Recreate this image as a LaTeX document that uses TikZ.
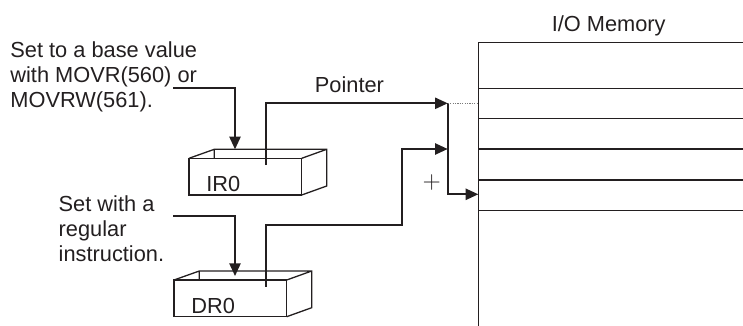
\documentclass[tikz,border=0pt]{standalone}
\usepackage{fontspec}
\setsansfont{Liberation Sans}
\usepackage{tikz}
\usetikzlibrary{arrows.meta,positioning}
\definecolor{ioline}{HTML}{231F20}
\definecolor{iodots}{HTML}{7A7A7A}
\newcommand{\drawtray}[1]{%
  \draw[draw=ioline,line width=0.65pt]
    (#1.north west) -- ++(25.3,-9) -- ++(112.4,0) -- ++(0,36.7) -- (#1.south east)
    (#1.north east) -- ++(25,-9)
    ([shift={(25.3,0)}]#1.north west) -- ++(0,-9);}

\begin{document}
\begin{tikzpicture}[
  x=0.5pt,y=-0.5pt,
  txt/.style={font=\sffamily\fontsize{10.9}{12.65}\selectfont,inner sep=0pt,align=left,text=ioline},
  reg/.style={draw=ioline,line width=0.65pt,minimum width=56.35pt,minimum height=18.35pt,inner sep=0pt,outer sep=0pt},
  mem/.style={draw=ioline,line width=0.6pt,minimum width=150pt,minimum height=152pt,inner sep=0pt,outer sep=0pt},
  row/.style={draw=ioline,line width=0.6pt},
  arr/.style={-{Triangle[length=6.3pt,width=5.6pt]},draw=ioline,line width=0.85pt},
  dotline/.style={draw=iodots,line width=0.5pt,dash pattern=on 0.6pt off 0.6pt}
]
\path[clip,use as bounding box] (0,0) rectangle (743,326);

\node[txt,anchor=north west] (base) at (10,41.1) {Set to a base value\\with MOVR(560) or\\MOVRW(561).};
\node[txt,anchor=north west] (reglr) at (58.3,195.1) {Set with a\\regular\\instruction.};

\node[reg,anchor=north west] (ir) at (189,158.3) {};
\node[reg,anchor=north west] (dr) at (174,280) {};
\drawtray{ir}
\drawtray{dr}
\node[txt,anchor=base west] (irname) at ([shift={(17,-3.3)}]ir.south west) {IR0};
\node[txt,anchor=base west] (drname) at ([shift={(17,-3.3)}]dr.south west) {DR0};

\node[mem,anchor=north west] (mem) at (478.3,42.3) {};
\foreach \r in {88.3,118.7,149,180,210.7} \draw[row] (478.3,\r) -- (760,\r);
\node[txt,anchor=base] (memtitle) at (608.7,31.7) {I/O Memory};

\coordinate (irset) at (173,88.3);
\coordinate (drset) at (173.3,216);
\coordinate (ptrjoin) at (447.7,103.3);
\coordinate (ofsjoin) at (447.7,149);

\draw[arr] (irset) -| ([shift={(46,-9)}]ir.north west);
\draw[arr] (drset) -| ([shift={(61,-4)}]dr.north west);
\draw[arr] ([shift={(76.7,6.7)}]ir.north west) |- node[txt,pos=0.73,above=5pt] (ptrlbl) {Pointer} (ptrjoin);
\draw[arr] ([shift={(91.7,6.7)}]dr.north west) -- ++(0,-61.7) -- ++(136.6,0) |- (ofsjoin);
\draw[arr] (ptrjoin) |- (mem.west);
\draw[dotline] (ptrjoin) -- (ptrjoin -| mem.west);
\node[font=\rmfamily\fontsize{12}{12}\selectfont,text=ioline,inner sep=0pt] (plus) at (431.7,182.7) {+};
\end{tikzpicture}
\end{document}
